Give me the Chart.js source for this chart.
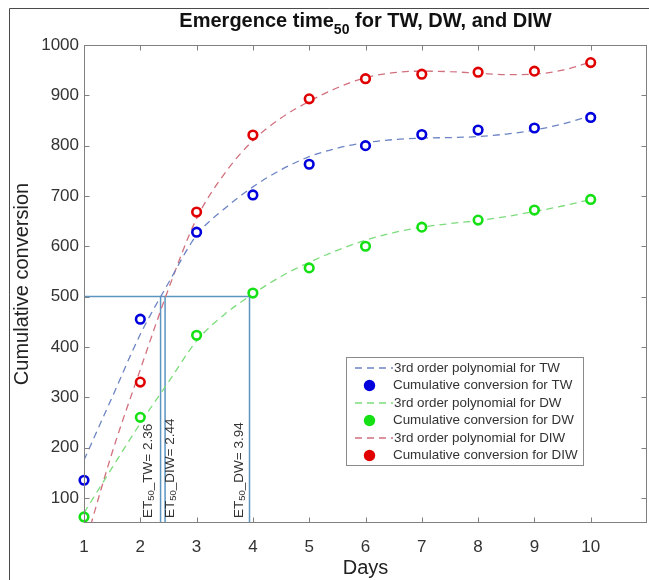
<!DOCTYPE html>
<html><head><meta charset="utf-8">
<script src="https://cdn.jsdelivr.net/npm/chart.js@4.4.1/dist/chart.umd.min.js"></script>
<style>html,body{margin:0;padding:0;background:#fff;}</style>
</head><body>
<canvas id="c" width="649" height="580"></canvas>
<script>
// ---- data ----
const days = [1, 2, 3, 4, 5, 6, 7, 8, 9, 10];
const twPoints  = [135, 455, 628, 702, 763, 800, 822, 831, 835, 856];
const dwPoints  = [62, 260, 423, 507, 557, 600, 638, 652, 672, 693];
const diwPoints = [null, 330, 668, 821, 893, 933, 942, 946, 948, 965];

const fitX   = [1, 1.5, 2, 2.5, 3, 3.5, 4, 4.5, 5, 5.5, 6, 6.5, 7, 7.5, 8, 8.5, 9, 9.5, 10];
const twFit  = [175, 300, 425, 527, 622, 675, 718, 752, 778, 795, 806, 812, 815, 816, 818, 823, 831, 843, 859];
const dwFit  = [70, 160, 248, 330, 412, 465, 505, 540, 568, 592, 612, 627, 638, 645, 651, 659, 669, 680, 693];
const diwFit = [0, 190, 355, 515, 655, 745, 810, 855, 888, 915, 935, 945, 948, 947, 944, 941, 942, 950, 966];

const etNames  = ['TW', 'DIW', 'DW'];
const etValues = [2.36, 2.44, 3.94];
const etLevel  = 500;

const xTicks = [1, 2, 3, 4, 5, 6, 7, 8, 9, 10];
const yTicks = [100, 200, 300, 400, 500, 600, 700, 800, 900, 1000];
const xRange = [1, 11];
const yRange = [50, 1000];

const legendLabels = [
  '3rd order polynomial for TW', 'Cumulative conversion for TW',
  '3rd order polynomial for DW', 'Cumulative conversion for DW',
  '3rd order polynomial for DIW', 'Cumulative conversion for DIW'
];

// ---- styles ----
const FONT = "'Liberation Sans', Arial, Helvetica, sans-serif";
const C = {
  tw: '#0000dc', dw: '#14e014', diw: '#e00000',
  twFit: '#6c84c4', dwFit: '#7cdc7c', diwFit: '#d2707e',
  et: '#5b95c0', axis: '#808080', text: '#333333'
};

function pts(xs, ys) { return xs.map((x, i) => ({ x: x, y: ys[i] })); }

function pointDs(data, color) {
  return { type: 'scatter', data: data, showLine: false, pointRadius: 4.3, pointHoverRadius: 4.3,
    pointBorderWidth: 2.6, borderColor: color, backgroundColor: '#ffffff', pointStyle: 'circle', order: 0, clip: false };
}
function fitDs(data, color) {
  return { type: 'line', data: data, borderColor: color, borderWidth: 1.3, borderDash: [7, 5],
    pointRadius: 0, cubicInterpolationMode: 'monotone', fill: false, order: 1 };
}
function etDs(data) {
  return { type: 'line', data: data, borderColor: C.et, borderWidth: 1.5, pointRadius: 0, fill: false, order: 2 };
}

const etMax = Math.max.apply(null, etValues);
const datasets = [
  pointDs(pts(days, twPoints), C.tw),
  pointDs(pts(days, dwPoints), C.dw),
  pointDs(pts(days, diwPoints), C.diw),
  fitDs(pts(fitX, twFit), C.twFit),
  fitDs(pts(fitX, dwFit), C.dwFit),
  fitDs(pts(fitX, diwFit), C.diwFit),
  etDs([{ x: xRange[0], y: etLevel }, { x: etMax, y: etLevel }])
];
etValues.forEach(v => datasets.push(etDs([{ x: v, y: etLevel }, { x: v, y: yRange[0] }])));

function drawSubText(ctx, parts, x, y) {
  let cx = x;
  parts.forEach(p => { ctx.font = p.font; ctx.fillText(p.t, cx, y + (p.dy || 0)); cx += ctx.measureText(p.t).width; });
  return cx - x;
}
function measureParts(ctx, parts) {
  let w = 0; parts.forEach(p => { ctx.font = p.font; w += ctx.measureText(p.t).width; }); return w;
}

const decor = {
  id: 'decor',
  beforeDraw(chart) {
    const ctx = chart.ctx;
    ctx.save(); ctx.fillStyle = '#fff'; ctx.fillRect(0, 0, chart.width, chart.height); ctx.restore();
  },
  afterDraw(chart) {
    const ctx = chart.ctx, a = chart.chartArea, xs = chart.scales.x, ys = chart.scales.y;
    ctx.save();
    // outer figure frame
    ctx.strokeStyle = '#4a4a4a'; ctx.lineWidth = 1;
    ctx.beginPath(); ctx.moveTo(9.5, chart.height + 2); ctx.lineTo(9.5, 8.5); ctx.lineTo(chart.width + 2, 8.5); ctx.stroke();

    // axes box
    const L = Math.round(a.left) + 0.5, R = Math.round(a.right) - 0.5, T = Math.round(a.top) + 0.5, B = Math.round(a.bottom) - 0.5;
    ctx.strokeStyle = C.axis; ctx.lineWidth = 1;
    ctx.strokeRect(L, T, R - L, B - T);
    const tl = 5;
    ctx.beginPath();
    xTicks.forEach(v => { const p = Math.round(xs.getPixelForValue(v)) + 0.5; ctx.moveTo(p, B); ctx.lineTo(p, B - tl); ctx.moveTo(p, T); ctx.lineTo(p, T + tl); });
    yTicks.forEach(v => { const p = Math.round(ys.getPixelForValue(v)) + 0.5; ctx.moveTo(L, p); ctx.lineTo(L + tl, p); ctx.moveTo(R, p); ctx.lineTo(R - tl, p); });
    ctx.stroke();

    // x tick labels
    ctx.fillStyle = C.text; ctx.font = '17px ' + FONT; ctx.textAlign = 'center'; ctx.textBaseline = 'middle';
    xTicks.forEach(v => ctx.fillText(String(v), xs.getPixelForValue(v), a.bottom + 24));

    // title with subscript
    ctx.fillStyle = '#111'; ctx.textBaseline = 'alphabetic'; ctx.textAlign = 'left';
    const tParts = [
      { t: 'Emergence time', font: 'bold 20px ' + FONT },
      { t: '50', font: 'bold 14px ' + FONT, dy: 7 },
      { t: ' for TW, DW, and DIW', font: 'bold 20px ' + FONT }
    ];
    const tw = measureParts(ctx, tParts);
    drawSubText(ctx, tParts, (a.left + a.right) / 2 - tw / 2, 27);

    // ET labels (rotated)
    ctx.fillStyle = C.text; ctx.textBaseline = 'middle';
    const offs = { TW: -12, DIW: 5.5, DW: -10 };
    etNames.forEach((n, i) => {
      const px = xs.getPixelForValue(etValues[i]) + offs[n];
      ctx.save();
      ctx.translate(px, a.bottom - 5);
      ctx.rotate(-Math.PI / 2);
      drawSubText(ctx, [
        { t: 'ET', font: '13.5px ' + FONT },
        { t: '50', font: '9.5px ' + FONT, dy: 3 },
        { t: '_' + n + '= ' + etValues[i].toFixed(2), font: '13.5px ' + FONT }
      ], 0, 0);
      ctx.restore();
    });

    // legend
    const lx = 346.5, ly = 357.5, lw = 237, lh = 108;
    ctx.fillStyle = '#fff'; ctx.fillRect(lx, ly, lw, lh);
    ctx.strokeStyle = '#8a8a8a'; ctx.lineWidth = 1; ctx.strokeRect(lx, ly, lw, lh);
    const rowColors = [C.twFit, C.tw, C.dwFit, C.dw, C.diwFit, C.diw];
    ctx.font = '13.4px ' + FONT; ctx.textBaseline = 'middle'; ctx.fillStyle = C.text;
    legendLabels.forEach((lab, i) => {
      const cy = ly + 10.5 + i * 17.5;
      if (i % 2 === 0) {
        ctx.save(); ctx.strokeStyle = rowColors[i]; ctx.lineWidth = 1.3; ctx.setLineDash([7, 5]);
        ctx.beginPath(); ctx.moveTo(355, cy); ctx.lineTo(393, cy); ctx.stroke(); ctx.restore();
        ctx.fillStyle = C.text; ctx.fillText(lab, 394, cy);
      } else {
        ctx.beginPath(); ctx.fillStyle = rowColors[i]; ctx.arc(369.5, cy, 5.7, 0, Math.PI * 2); ctx.fill();
        ctx.fillStyle = C.text; ctx.fillText(lab, 393, cy);
      }
    });
    ctx.restore();
  }
};

new Chart(document.getElementById('c'), {
  type: 'scatter',
  data: { datasets: datasets },
  options: {
    responsive: false, animation: false, devicePixelRatio: 1,
    layout: { autoPadding: false, padding: { top: 45, right: 2, left: 0, bottom: 0 } },
    plugins: { legend: { display: false }, tooltip: { enabled: false }, title: { display: false } },
    scales: {
      x: {
        type: 'linear', min: xRange[0], max: xRange[1],
        afterBuildTicks: s => { s.ticks = xTicks.map(v => ({ value: v })); },
        afterFit: s => { s.height = 57; s.paddingLeft = 0; s.paddingRight = 0; },
        grid: { display: false, drawTicks: false }, border: { display: false },
        ticks: { display: false },
        title: { display: true, text: 'Days', color: '#222', font: { family: FONT, size: 20 }, padding: { top: 0, bottom: 0 } }
      },
      y: {
        type: 'linear', min: yRange[0], max: yRange[1],
        afterBuildTicks: s => { s.ticks = yTicks.map(v => ({ value: v })); },
        afterFit: s => { s.width = 84; },
        grid: { display: false, drawTicks: false }, border: { display: false },
        ticks: { padding: 5, color: C.text, font: { family: FONT, size: 17 }, autoSkip: false,
                 callback: v => String(v) },
        title: { display: true, text: 'Cumulative conversion', color: '#222', font: { family: FONT, size: 20 }, padding: { top: 10, bottom: 0 } }
      }
    }
  },
  plugins: [decor]
});
</script>
</body></html>
